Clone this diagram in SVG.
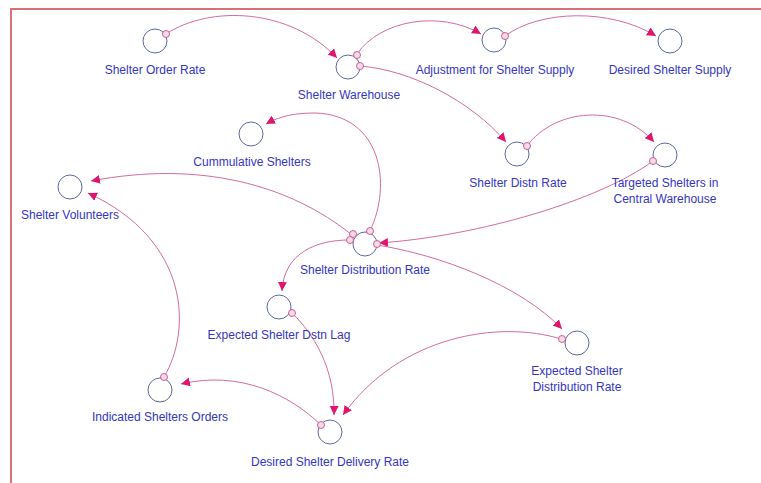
<svg xmlns="http://www.w3.org/2000/svg" width="761" height="483" viewBox="0 0 761 483">
<style>
.node circle.v{fill:none;stroke:#5a6aa0;stroke-width:1}
.node text{font-family:"Liberation Sans",Arial,sans-serif;font-size:12px;fill:#3535c0;text-anchor:middle}
.tail{fill:#f4dbe8;stroke:#c8508a;stroke-width:0.9}
#links path{fill:none;stroke:#d56b9e;stroke-width:1;marker-end:url(#arr)}
</style>
<defs>
<marker id="arr" markerUnits="userSpaceOnUse" markerWidth="10" markerHeight="10" refX="9" refY="4.5" orient="auto">
<path d="M0,0 L9,4.5 L0,9 z" fill="#e0166e"/>
</marker>
</defs>
<rect width="761" height="483" fill="#ffffff"/>
<path d="M11,483 V9 H761" fill="none" stroke="#d87272" stroke-width="2"/>
<g id="links">
<path d="M166,34 C210,5 290,8 337,58"/>
<path d="M357,54 C380,20 440,10 481,34"/>
<path d="M505,36 C540,10 610,8 656,36"/>
<path d="M360,66 C410,70 470,100 506,142"/>
<path d="M527,146 C555,108 620,103 654,142"/>
<path d="M653,161 C600,200 480,236 379,243"/>
<path d="M370,231 C392,185 382,115 315,113 C295,113 280,116 266,124"/>
<path d="M352,235 C290,185 200,160 91,181"/>
<path d="M349,240 C318,240 284,252 282,291"/>
<path d="M377,245 C440,255 520,285 562,329"/>
<path d="M164,377 C192,330 190,240 88,193"/>
<path d="M321,425 C290,395 240,370 181,384"/>
<path d="M292,313 C315,335 335,370 334,415"/>
<path d="M561,339 C500,320 400,335 343,415"/>
</g>
<g id="shelter-order-rate" class="node"><circle class="v" cx="155" cy="41" r="12"/><circle class="tail" cx="166" cy="34" r="3.5"/><text x="155" y="74">Shelter Order Rate</text></g>
<g id="shelter-warehouse" class="node"><circle class="v" cx="348" cy="67" r="12"/><circle class="tail" cx="357" cy="55" r="3.5"/><circle class="tail" cx="360" cy="66" r="3.5"/><text x="349" y="99">Shelter Warehouse</text></g>
<g id="adjustment-shelter-supply" class="node"><circle class="v" cx="494" cy="40" r="12"/><circle class="tail" cx="505" cy="36" r="3.5"/><text x="495" y="74">Adjustment for Shelter Supply</text></g>
<g id="desired-shelter-supply" class="node"><circle class="v" cx="670" cy="41" r="12"/><text x="670" y="74">Desired Shelter Supply</text></g>
<g id="cummulative-shelters" class="node"><circle class="v" cx="251" cy="134" r="12"/><text x="252" y="166">Cummulative Shelters</text></g>
<g id="shelter-volunteers" class="node"><circle class="v" cx="70" cy="187" r="12"/><text x="70" y="219">Shelter Volunteers</text></g>
<g id="shelter-distn-rate" class="node"><circle class="v" cx="517" cy="154" r="12"/><circle class="tail" cx="527" cy="146" r="3.5"/><text x="518" y="187">Shelter Distn Rate</text></g>
<g id="targeted-shelters" class="node"><circle class="v" cx="665" cy="155" r="12"/><circle class="tail" cx="653" cy="161" r="3.5"/><text x="665" y="187">Targeted Shelters in</text><text x="665" y="203">Central Warehouse</text></g>
<g id="shelter-distribution-rate" class="node"><circle class="v" cx="365" cy="244" r="12"/><circle class="tail" cx="353" cy="234" r="3.5"/><circle class="tail" cx="350" cy="240" r="3.5"/><circle class="tail" cx="370" cy="231" r="3.5"/><circle class="tail" cx="377" cy="244" r="3.5"/><text x="365" y="274">Shelter Distribution Rate</text></g>
<g id="expected-shelter-dstn-lag" class="node"><circle class="v" cx="279" cy="307" r="12"/><circle class="tail" cx="292" cy="313" r="3.5"/><text x="279" y="339">Expected Shelter Dstn Lag</text></g>
<g id="expected-shelter-distribution-rate" class="node"><circle class="v" cx="577" cy="343" r="12"/><circle class="tail" cx="562" cy="339" r="3.5"/><text x="577" y="375">Expected Shelter</text><text x="577" y="391">Distribution Rate</text></g>
<g id="indicated-shelters-orders" class="node"><circle class="v" cx="160" cy="390" r="12"/><circle class="tail" cx="164" cy="377" r="3.5"/><text x="160" y="421">Indicated Shelters Orders</text></g>
<g id="desired-shelter-delivery-rate" class="node"><circle class="v" cx="330" cy="432" r="12"/><circle class="tail" cx="321" cy="425" r="3.5"/><text x="330" y="466">Desired Shelter Delivery Rate</text></g>
</svg>
